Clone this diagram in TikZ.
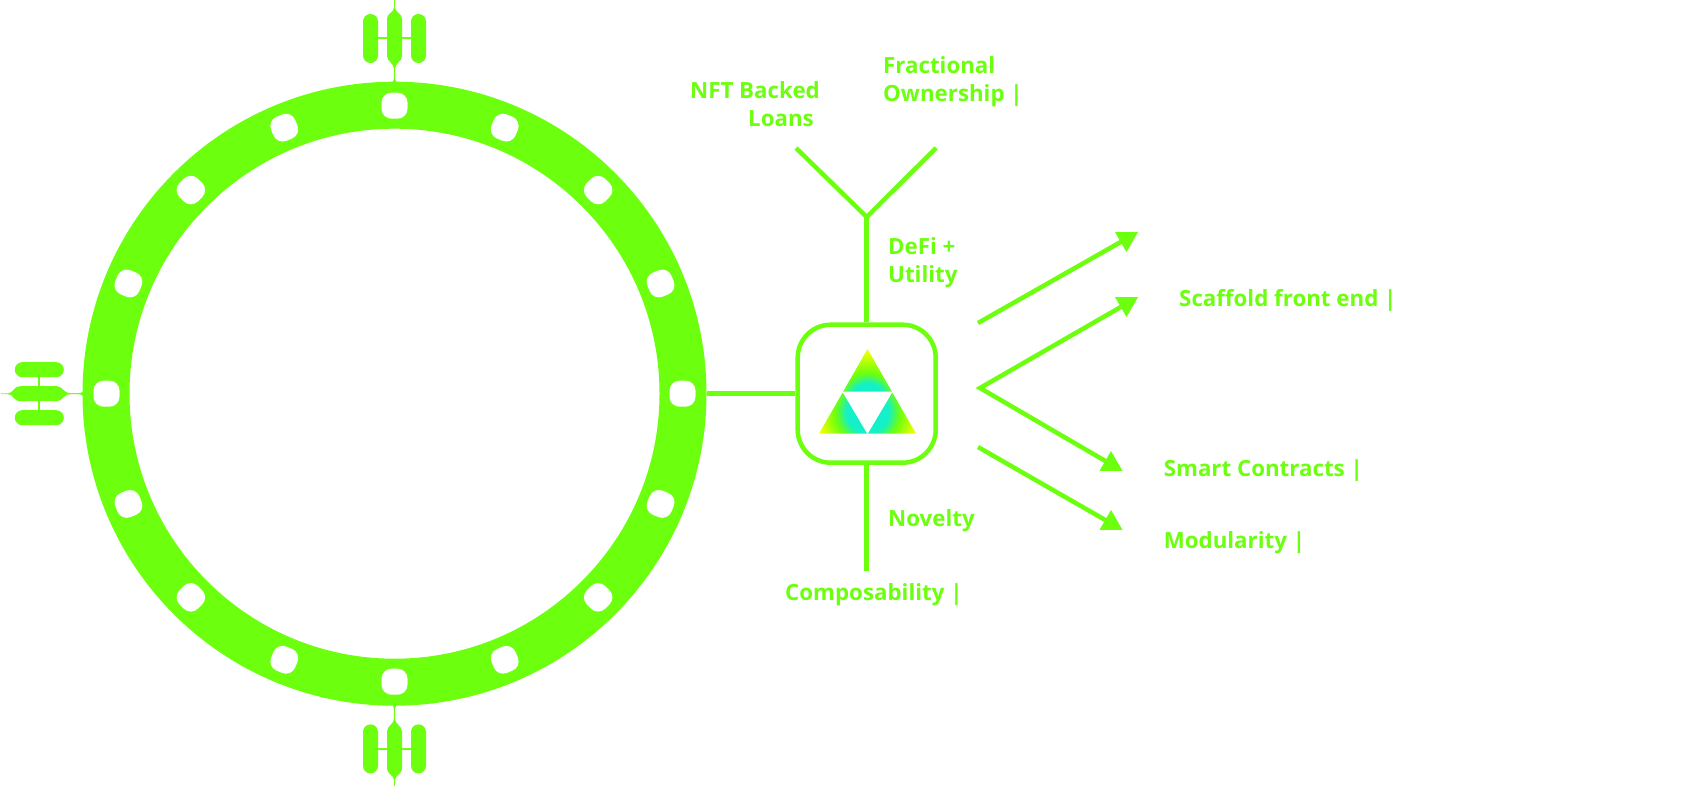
\documentclass[tikz,border=0pt]{standalone}
\usepackage{fontspec}
\setmainfont{Open Sans}
\usepackage{xcolor}
\usetikzlibrary{shapes.geometric}

\definecolor{limeg}{HTML}{6CFF0E}
\definecolor{tricyan}{HTML}{14F0C8}
\definecolor{triyellow}{HTML}{FFFF00}

\pgfdeclareradialshading{topglow}{\pgfpoint{0bp}{0bp}}{color(0bp)=(tricyan); color(7.6bp)=(tricyan); color(12bp)=(limeg); color(22.8bp)=(triyellow); color(50bp)=(triyellow)}
\pgfdeclareradialshading{sideglow}{\pgfpoint{0bp}{0bp}}{color(0bp)=(tricyan); color(9.4bp)=(tricyan); color(14.3bp)=(limeg); color(23.2bp)=(triyellow); color(50bp)=(triyellow)}

\tikzset{
    pill/.style = {fill = limeg, minimum width = 15pt, minimum height = 49pt, inner sep = 0, rounded corners = 7.4pt, transform shape},
    hole/.style = {fill = white, minimum size = 26pt, inner sep = 0, rounded corners = 10pt},
    link/.style = {draw = limeg, line width = 4.5pt},
    head/.style = {fill = limeg, regular polygon, regular polygon sides = 3, minimum size = 26.6pt, inner sep = 0, outer sep = 0},
    label/.style = {text = limeg, anchor = base west, inner sep = 0, font = \fontsize{22.3}{28}\selectfont\bfseries, align = left}
}

\begin{document}
\begin{tikzpicture}[x = 1pt, y = -1pt]
    \useasboundingbox (0, 0) rectangle (1702, 786);

    %% ring
    \node[circle, draw = limeg, line width = 47pt, minimum size = 577pt, inner sep = 0] (ring) at (394.5, 393.7) {};
    \foreach \a [count = \i] in {0, 22.5, ..., 337.5}
        \node[hole, rotate = -\a] (hole\i) at ([shift = {(\a:288)}] ring.center) {};

    %% pills
    \foreach \side/\ang in {top/0, left/90, bottom/180} {
        \begin{scope}[rotate around = {\ang:(394.5, 393.7)}]
            \node[pill] (\side a) at (370.5, 38.5) {};
            \node[pill] (\side b) at (418.5, 38.5) {};
            \draw[limeg, line width = 2pt] (\side a) -- (\side b);
            \fill[limeg] (394.1, 0) -- (394.1, 7) .. controls (394.1, 13) and (387, 12) .. (387, 20)
                -- (387, 56) .. controls (387, 62) and (393.9, 62) .. (394, 70)
                -- (394, 77) .. controls (394, 79) and (393.5, 81) .. (392.5, 82)
                -- (396.5, 82) .. controls (395.5, 81) and (395, 79) .. (395, 77)
                -- (395, 70) .. controls (395.1, 62) and (402, 62) .. (402, 56)
                -- (402, 20) .. controls (402, 12) and (394.9, 13) .. (394.9, 7) -- (394.9, 0) -- cycle;
        \end{scope}
    }

    %% hub
    \node[link, fill = white, rounded corners = 33pt, minimum size = 138pt, inner sep = 0] (hub) at (866.7, 393.7) {};
    \draw[link] (ring.east) -- (hub.west);

    %% triangle
    \begin{scope}
        \clip (867.5, 349) -- (843.2, 391.5) -- (891.8, 391.5) -- cycle;
        \shade[shading = topglow] (867.5, 400) circle (56);
    \end{scope}
    \begin{scope}
        \clip (842.7, 392.5) -- (819, 433.5) -- (867, 433.5) -- cycle;
        \shade[shading = sideglow] (867.5, 412) circle (56);
    \end{scope}
    \begin{scope}
        \clip (892.3, 392.5) -- (916, 433.5) -- (868, 433.5) -- cycle;
        \shade[shading = sideglow] (867.5, 412) circle (56);
    \end{scope}

    %% fork
    \coordinate (forkjoin) at (866.7, 217);
    \coordinate (forkleft) at (796, 148);
    \coordinate (forkright) at (936, 148);
    \coordinate (stemend) at (866.7, 571);
    \draw[link] (hub.north) -- (forkjoin);
    \draw[link] (forkleft) -- (forkjoin) -- (forkright);
    \draw[link] (hub.south) -- (stemend);

    %% arrows
    \coordinate (fantop) at (978, 323);
    \coordinate (fanmid) at (980, 388);
    \coordinate (fanlow) at (978, 447);
    \node[head, rotate = 180] (heada) at (1126.5, 238.7) {};
    \node[head, rotate = 180] (headb) at (1126.5, 303.7) {};
    \node[head] (headc) at (1111, 464.3) {};
    \node[head] (headd) at (1111, 523.3) {};
    \draw[link] (fantop) -- (heada.center);
    \draw[link] (headb.center) -- (fanmid) -- (headc.center);
    \draw[link] (fanlow) -- (headd.center);

    %% labels
    \node[label] (fractional) at (883, 102) {Fractional\\Ownership |};
    \node[label, anchor = base east, align = right] (loans) at (820, 127) {NFT Backed\\Loans\hspace*{6pt}};
    \node[label] (defi) at (888, 283) {DeFi +\\Utility};
    \node[label] (novelty) at (888, 526) {Novelty};
    \node[label] (composability) at (785, 600) {Composability |};
    \node[label] (scaffold) at (1179, 306) {Scaffold front end |};
    \node[label] (contracts) at (1163.6, 476.5) {Smart Contracts |};
    \node[label] (modularity) at (1163.6, 548) {Modularity |};
\end{tikzpicture}
\end{document}
